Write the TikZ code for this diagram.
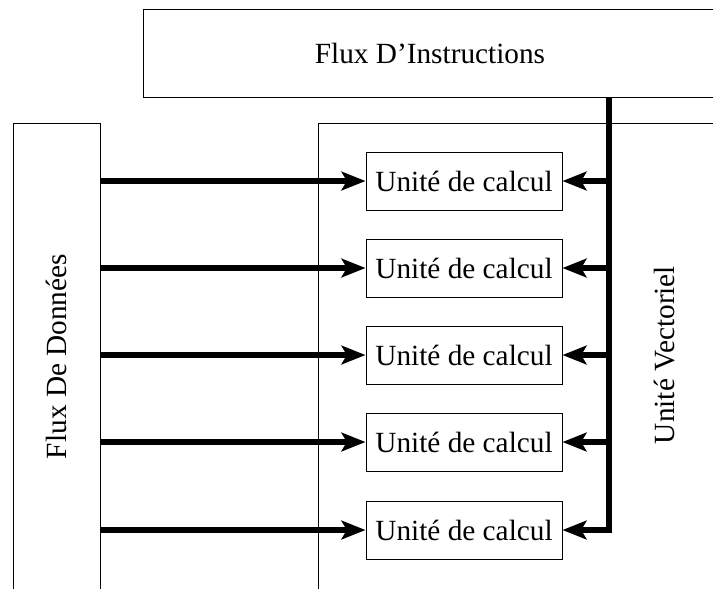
\documentclass[tikz,border=0pt]{standalone}
\usepackage{fontspec}
\setmainfont{Liberation Serif}
\usetikzlibrary{arrows.meta}

\tikzset{
  box/.style   = {draw, inner sep=0pt, font=\fontsize{12.5}{15}\selectfont},
  unit/.style  = {box, minimum width=2.94cm, minimum height=0.87cm},
  tip/.style   = {-{Stealth[length=0.36cm, width=0.28cm, inset=0.08cm]}},
  flow/.style  = {line width=2.5pt, tip},
  bus/.style   = {line width=2.5pt, line join=miter, tip}
}

\begin{document}
\begin{tikzpicture}[x=0.015cm, y=-0.015cm]
            % Frame of the picture
            \useasboundingbox (0,0) rectangle (713,588);
            \clip (0,0) rectangle (713,588);
            % Instruction stream
            \node[box, minimum width=8.595cm, minimum height=1.3125cm] (instr) at (430,53.25) {Flux D'Instructions};
            % Data stream
            \node[box, rotate=90, minimum width=7.005cm, minimum height=1.305cm] (data) at (56.5,356.5) {Flux De Données};
            % Vector unit
            \node[box, minimum width=6.33cm, minimum height=7.155cm] (vect) at (529,361.5) {};
            \node[font=\fontsize{12.5}{15}\selectfont, rotate=90] (vectlabel) at (665,355) {Unité Vectoriel};
            % Compute units
            \foreach \i/\y in {1/181, 2/268, 3/355, 4/442, 5/530} {
                \node[unit] (u\i) at (464,\y) {Unité de calcul};
            }
            % Instruction bus
            \coordinate (bustop) at (609,97);
            \draw[bus] (bustop) -- (bustop |- u5.east) -- (u5.east);
            \foreach \i in {1,...,4} {
                \draw[flow] (bustop |- u\i.east) -- (u\i.east);
            }
            % Data links
            \foreach \i in {1,...,5} {
                \draw[flow] (data.south |- u\i.west) -- (u\i.west);
            }
        \end{tikzpicture}
\end{document}
